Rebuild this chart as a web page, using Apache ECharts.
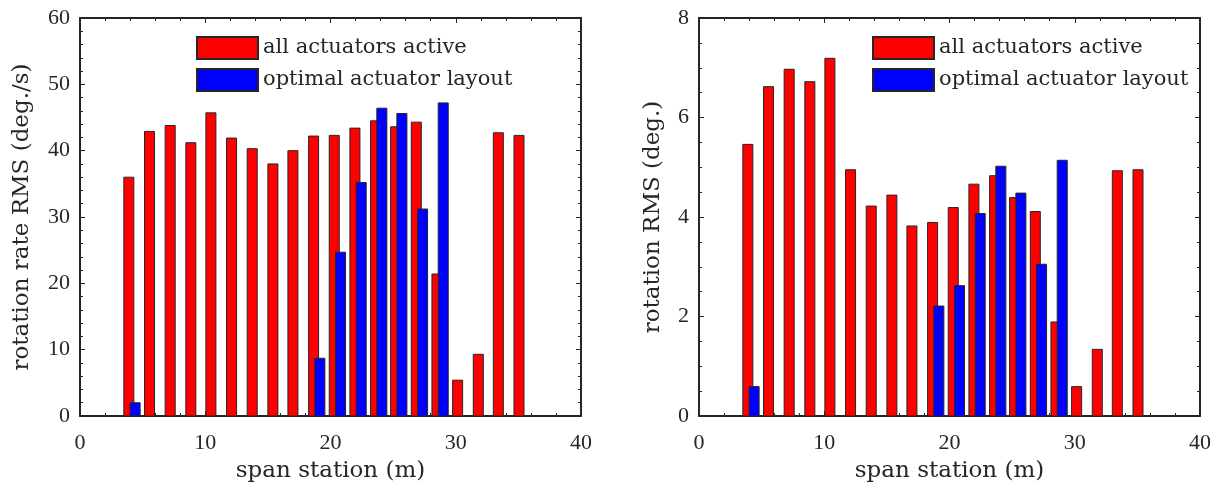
<!DOCTYPE html>
<html>

<head>
    <title>Rotation RMS along span</title>
    <meta charset="utf-8">
    <script src="https://cdn.jsdelivr.net/npm/echarts@6/dist/echarts.min.js"></script>
</head>

<body style="margin:0">
    <div id="chart" style="width: 1219px;height:489px;"></div>
    <script>
        // span stations (m) of the red bars and of the blue (offset) bars
        var redStations = [3.9, 5.55, 7.2, 8.85, 10.45, 12.1, 13.75, 15.4, 17.0, 18.65, 20.3, 21.95, 23.6, 25.2, 26.85, 28.5, 30.15, 31.8, 33.4, 35.05];
        var blueStations = [4.4, 19.15, 20.8, 22.45, 24.1, 25.7, 27.35, 29.0];

        // left: rotation rate RMS (deg./s)
        var rateAll = [36.0, 42.9, 43.8, 41.2, 45.7, 41.9, 40.3, 38.0, 40.0, 42.2, 42.3, 43.4, 44.5, 43.6, 44.3, 21.4, 5.4, 9.3, 42.7, 42.3];
        var rateOpt = [2.0, 8.7, 24.7, 35.2, 46.4, 45.6, 31.2, 47.2];

        // right: rotation RMS (deg.)
        var rotAll = [5.46, 6.62, 6.97, 6.72, 7.19, 4.95, 4.22, 4.44, 3.82, 3.89, 4.19, 4.66, 4.83, 4.39, 4.11, 1.89, 0.59, 1.34, 4.93, 4.95];
        var rotOpt = [0.59, 2.21, 2.62, 4.07, 5.02, 4.48, 3.05, 5.14];

        var names = ['all actuators active', 'optimal actuator layout'];
        var font = 'Liberation Serif';
        var wide = 'DejaVu Serif';
        var ink = '#262626';
        var barW = 0.8;

        function pairs(xs, ys) {
            return xs.map((x, i) => [x, ys[i]]);
        }

        function barSeries(name, color, xi, data) {
            return {
                name: name,
                type: 'custom',
                xAxisIndex: xi,
                yAxisIndex: xi,
                itemStyle: { color: color, borderColor: ink, borderWidth: 1 },
                data: data,
                renderItem: function (params, api) {
                    var x = api.value(0), y = api.value(1);
                    var p0 = api.coord([x - barW / 2, y]);
                    var p1 = api.coord([x + barW / 2, 0]);
                    return {
                        type: 'rect',
                        shape: { x: p0[0], y: p0[1], width: p1[0] - p0[0], height: p1[1] - p0[1] },
                        style: { fill: color, stroke: ink, lineWidth: 1 }
                    };
                }
            };
        }

        function xAx(gi, pos) {
            var main = pos === 'bottom';
            return {
                gridIndex: gi, type: 'value', position: pos, min: 0, max: 40, interval: 10,
                name: main ? 'span station (m)' : '', nameLocation: 'middle', nameGap: 44,
                nameTextStyle: { fontFamily: wide, fontSize: 23, color: ink },
                axisLine: { show: true, onZero: false, lineStyle: { color: ink, width: 2 } },
                axisTick: { show: true, inside: true, length: 5, lineStyle: { color: ink } },
                minorTick: { show: true, splitNumber: 5, length: 3, lineStyle: { color: ink } },
                axisLabel: { show: main, fontFamily: font, fontSize: 22, color: ink, margin: 16 },
                splitLine: { show: false }
            };
        }

        function yAx(gi, pos, max, step, minors, title, gap) {
            var main = pos === 'left';
            return {
                gridIndex: gi, type: 'value', position: pos, min: 0, max: max, interval: step,
                name: main ? title : '', nameLocation: 'middle', nameGap: gap,
                nameTextStyle: { fontFamily: wide, fontSize: 23, color: ink },
                axisLine: { show: true, onZero: false, lineStyle: { color: ink, width: 2 } },
                axisTick: { show: true, inside: true, length: 5, lineStyle: { color: ink } },
                minorTick: { show: true, splitNumber: minors, length: 3, lineStyle: { color: ink } },
                axisLabel: { show: main, fontFamily: font, fontSize: 22, color: ink, margin: 10 },
                splitLine: { show: false }
            };
        }

        function legend(left) {
            return {
                data: names, orient: 'vertical', left: left, top: 36, padding: 0,
                itemWidth: 61, itemHeight: 22, itemGap: 8, icon: 'rect',
                textStyle: { fontFamily: wide, fontSize: 21, color: ink },
                selectedMode: false
            };
        }

        var chart = echarts.init(document.getElementById('chart'));
        chart.setOption({
            animation: false,
            backgroundColor: '#fff',
            legend: [legend(196), legend(872)],
            grid: [
                { left: 80, top: 18, width: 501, height: 398 },
                { left: 699, top: 18, width: 501, height: 398 }
            ],
            xAxis: [xAx(0, 'bottom'), xAx(0, 'top'), xAx(1, 'bottom'), xAx(1, 'top')],
            yAxis: [
                yAx(0, 'left', 60, 10, 5, 'rotation rate RMS (deg./s)', 46),
                yAx(0, 'right', 60, 10, 5, '', 0),
                yAx(1, 'left', 8, 2, 4, 'rotation RMS (deg.)', 34),
                yAx(1, 'right', 8, 2, 4, '', 0)
            ],
            series: [
                barSeries(names[0], '#ff0000', 0, pairs(redStations, rateAll)),
                barSeries(names[1], '#0000ff', 0, pairs(blueStations, rateOpt)),
                barSeries(names[0], '#ff0000', 2, pairs(redStations, rotAll)),
                barSeries(names[1], '#0000ff', 2, pairs(blueStations, rotOpt))
            ]
        });
    </script>
</body>

</html>
